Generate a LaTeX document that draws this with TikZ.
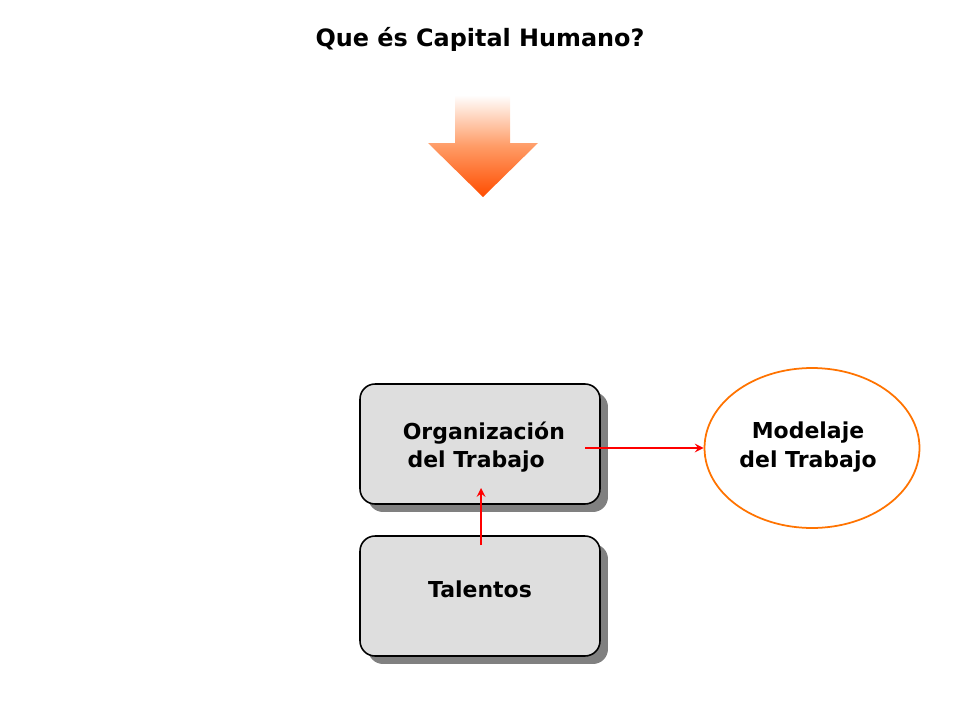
\documentclass[tikz,border=0pt]{standalone}
\usepackage{fontspec}
\setmainfont{DejaVu Sans}
\usetikzlibrary{shapes.geometric}
\begin{document}
\begin{tikzpicture}[x=0.02cm,y=-0.02cm,
  lbl/.style={font=\bfseries\fontsize{12.5}{16}\selectfont,align=center},
  boxx/.style={draw=black,line width=0.9pt,fill=black!13,rounded corners=0.3cm,minimum width=4.8cm,minimum height=2.4cm},
  shad/.style={fill=black!50,rounded corners=0.3cm,minimum width=4.8cm,minimum height=2.4cm},
  conn/.style={draw=red,line width=1.2pt,-stealth}]
\useasboundingbox (0,0) rectangle (960,720);
\node[font=\bfseries\fontsize{13.6}{16}\selectfont] (title) at (480,39) {Que és Capital Humano?};
\shade[top color=white,bottom color=orange!60!red,middle color=orange!70!red!60]
  (455,95) -- (510,95) -- (510,143) -- (538,143) -- (483,197) -- (428,143) -- (455,143) -- cycle;
\node[shad] (s1) at (488,452) {};
\node[boxx] (org) at (480,444) {};
\node[lbl] (orgt) at (480,447) {\ Organización\\del Trabajo\ \ };
\node[shad] (s2) at (488,604) {};
\node[boxx] (tal) at (480,596) {};
\node[lbl] (talt) at (480,589) {Talentos};
\node[draw=orange!90!red,line width=1pt,ellipse,fill=white,minimum width=4.3cm,minimum height=3.2cm] (mod) at (812,448) {};
\node[lbl] (modt) at (808,447) {Modelaje\\del Trabajo};
\coordinate (a1) at (585,448);
\coordinate (b1) at (481,545);
\coordinate (b2) at (481,488);
\draw[conn] (a1) -- (mod.west);
\draw[conn] (b1) -- (b2);
\end{tikzpicture}
\end{document}
